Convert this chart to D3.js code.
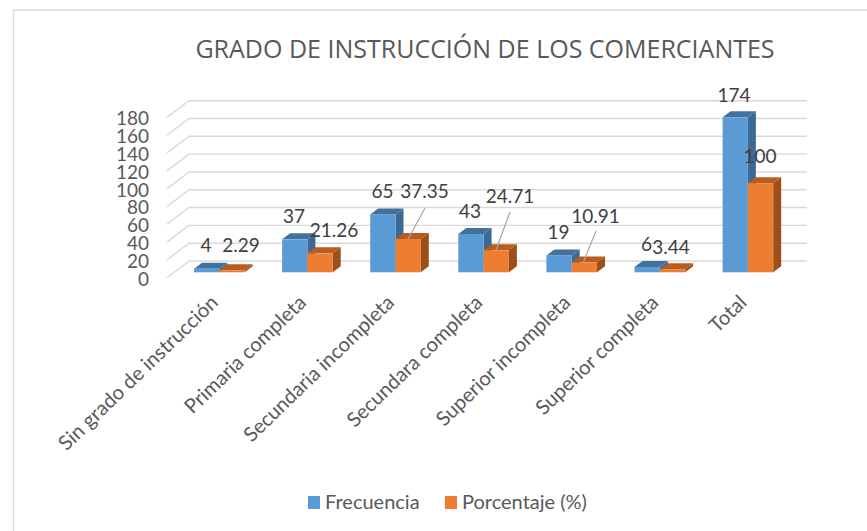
<!DOCTYPE html>
<html><head><meta charset="utf-8">
<script src="https://cdn.jsdelivr.net/npm/d3@7"></script>
<style>html,body{margin:0;padding:0;background:#fff}svg{display:block}text{font-family:Lato,"Noto Sans",sans-serif}</style>
</head><body><svg id="c" width="867" height="531"></svg>
<script>
const categories=["Sin grado de instrucción","Primaria completa","Secundaria incompleta","Secundara completa","Superior incompleta","Superior completa","Total"];
const frecuencia=[4,37,65,43,19,6,174];
const porcentaje=[2.29,21.26,37.35,24.71,10.91,3.44,100];
const frecuenciaLabels=["4","37","65","43","19","6","174"];
const porcentajeLabels=["2.29","21.26","37.35","24.71","10.91","3.44","100"];
const ticks=[0,20,40,60,80,100,120,140,160,180];
const title="GRADO DE INSTRUCCIÓN DE LOS COMERCIANTES";
const seriesNames=["Frecuencia","Porcentaje (%)"];

const svg=d3.select("#c");
const ink="#595959";
const y=d3.scaleLinear().domain([0,180]).range([261,100.7]);
const x=d3.scaleBand().domain(categories).range([150,766.7]);
const depth={x:22,y:16.7};
const barDepth={x:8,y:6};
const barBase0=272.3;
const barW=25.3;
const colors=[{f:"#5b9bd5",t:"#41719c",s:"#3c6a94"},{f:"#ed7d31",t:"#b85c20",s:"#9c4f1b"}];

svg.append("path").attr("d","M13.5 531V10H867").attr("fill","none").attr("stroke","#d9d9d9").attr("stroke-width",1.4);

const grid=svg.append("g").attr("fill","none").attr("stroke","#d9d9d9").attr("stroke-width",1.4);
ticks.forEach(t=>{
  const v=y(t);
  grid.append("path").attr("d",d3.line()([[189,v],[807,v]]));
  grid.append("path").attr("d",d3.line()([[189,v],[189-depth.x,v+depth.y]]));
});
svg.append("g").selectAll("text").data(ticks).join("text")
  .attr("x",149).attr("y",t=>y(t)+depth.y+8).attr("text-anchor","end")
  .attr("font-size",19).attr("fill",ink).text(t=>t);

const height=v=>y(0)-y(v);
function bar(g,x0,v,c){
  const b=barBase0,h=height(v),t=b-h,w=barW,dx=barDepth.x,dy=barDepth.y;
  g.append("path").attr("fill",c.s).attr("d",d3.line()([[x0+w,b],[x0+w+dx,b-dy],[x0+w+dx,t-dy],[x0+w,t]])+"Z");
  g.append("path").attr("fill",c.t).attr("d",d3.line()([[x0,t],[x0+dx,t-dy],[x0+w+dx,t-dy],[x0+w,t]])+"Z");
  g.append("rect").attr("x",x0).attr("y",t).attr("width",w).attr("height",h).attr("fill",c.f);
}
const bars=svg.append("g");
categories.forEach((c,i)=>{
  const x0=x(c)+44;
  bar(bars,x0,frecuencia[i],colors[0]);
  bar(bars,x0+barW,porcentaje[i],colors[1]);
});

const leaders=svg.append("g").attr("stroke","#a6a6a6").attr("stroke-width",1.2).attr("fill","none");
[[425,208,408,239],[510,212,496,250],[596,231,583,263]].forEach(l=>{
  leaders.append("line").attr("x1",l[0]).attr("y1",l[1]).attr("x2",l[2]).attr("y2",l[3]);
});

const labelPos=[
 [[206,252],[241,252]],
 [[294,223],[334,237]],
 [[382.5,197.5],[424.5,197.5]],
 [[470,218],[510,202.5]],
 [[558.5,238.5],[595.5,222.5]],
 [[646.5,251],[671,253.5]],
 [[734,102],[760,163]]
];
const lab=svg.append("g").attr("font-size",19).attr("fill","#404040").attr("text-anchor","middle");
categories.forEach((c,i)=>{
  lab.append("text").attr("x",labelPos[i][0][0]).attr("y",labelPos[i][0][1]).text(frecuenciaLabels[i]);
  lab.append("text").attr("x",labelPos[i][1][0]).attr("y",labelPos[i][1][1]).text(porcentajeLabels[i]);
});

svg.append("g").selectAll("text").data(categories).join("text")
  .attr("transform",d=>`translate(${x(d)+44+barW},${304}) rotate(-44)`)
  .attr("text-anchor","end").attr("font-size",20.2).attr("fill",ink).text(d=>d);

svg.append("text").attr("x",485).attr("y",58).attr("text-anchor","middle").attr("font-size",25)
  .style("font-family",'"Open Sans"').attr("fill",ink).text(title);

const lg=svg.append("g");
[[308,seriesNames[0]],[445,seriesNames[1]]].forEach((d,i)=>{
  lg.append("rect").attr("x",d[0]).attr("y",496).attr("width",12).attr("height",13).attr("fill",colors[i].f);
  lg.append("text").attr("x",d[0]+17).attr("y",509).attr("font-size",20).attr("fill",ink).text(d[1]);
});
</script></body></html>
